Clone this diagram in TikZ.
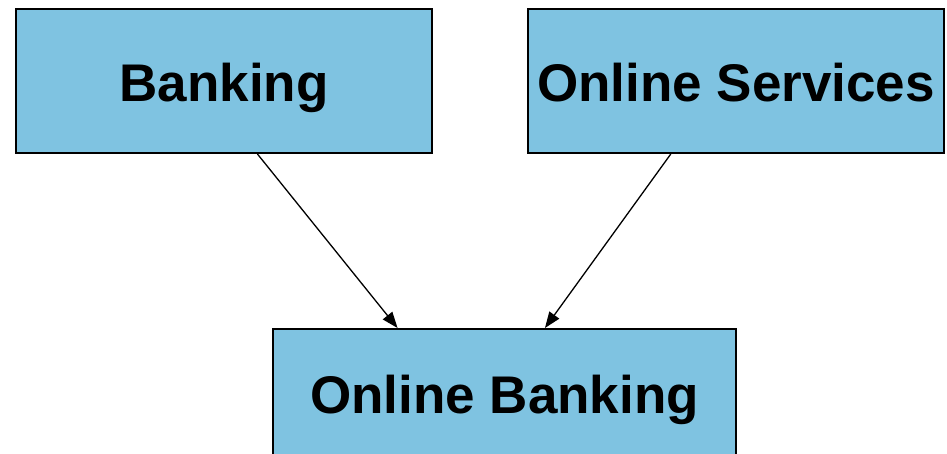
\documentclass[tikz,border=0pt]{standalone}
\usepackage{fontspec}
\setmainfont{Liberation Sans}
\usetikzlibrary{calc,arrows.meta}
\definecolor{boxblue}{RGB}{127,195,225}

\begin{document}
\begin{tikzpicture}[x=1pt,y=-1pt,
  box/.style = {draw, line width=2pt, fill=boxblue, inner sep=0pt,
    text height=40pt, text depth=0pt,
    minimum width=#1, font=\fontsize{53}{58}\selectfont\bfseries},
  link/.style = {-{Triangle[length=16pt,width=12pt]}, line width=1.3pt}]
  \useasboundingbox (0,0) rectangle (947,453);
  \node[box=416pt, minimum height=144pt] (bank) at (224,81) {Banking};
  \node[box=416pt, minimum height=144pt] (serv) at (736,81) {Online Services};
  \node[box=463pt, minimum height=128pt] (onl) at (504.5,393) {Online Banking};
  \draw[link] ($(bank.south west)!0.58!(bank.south east)$) -- ($(onl.north west)!0.27!(onl.north east)$);
  \draw[link] ($(serv.south west)!0.344!(serv.south east)$) -- ($(onl.north west)!0.587!(onl.north east)$);
\end{tikzpicture}
\end{document}
